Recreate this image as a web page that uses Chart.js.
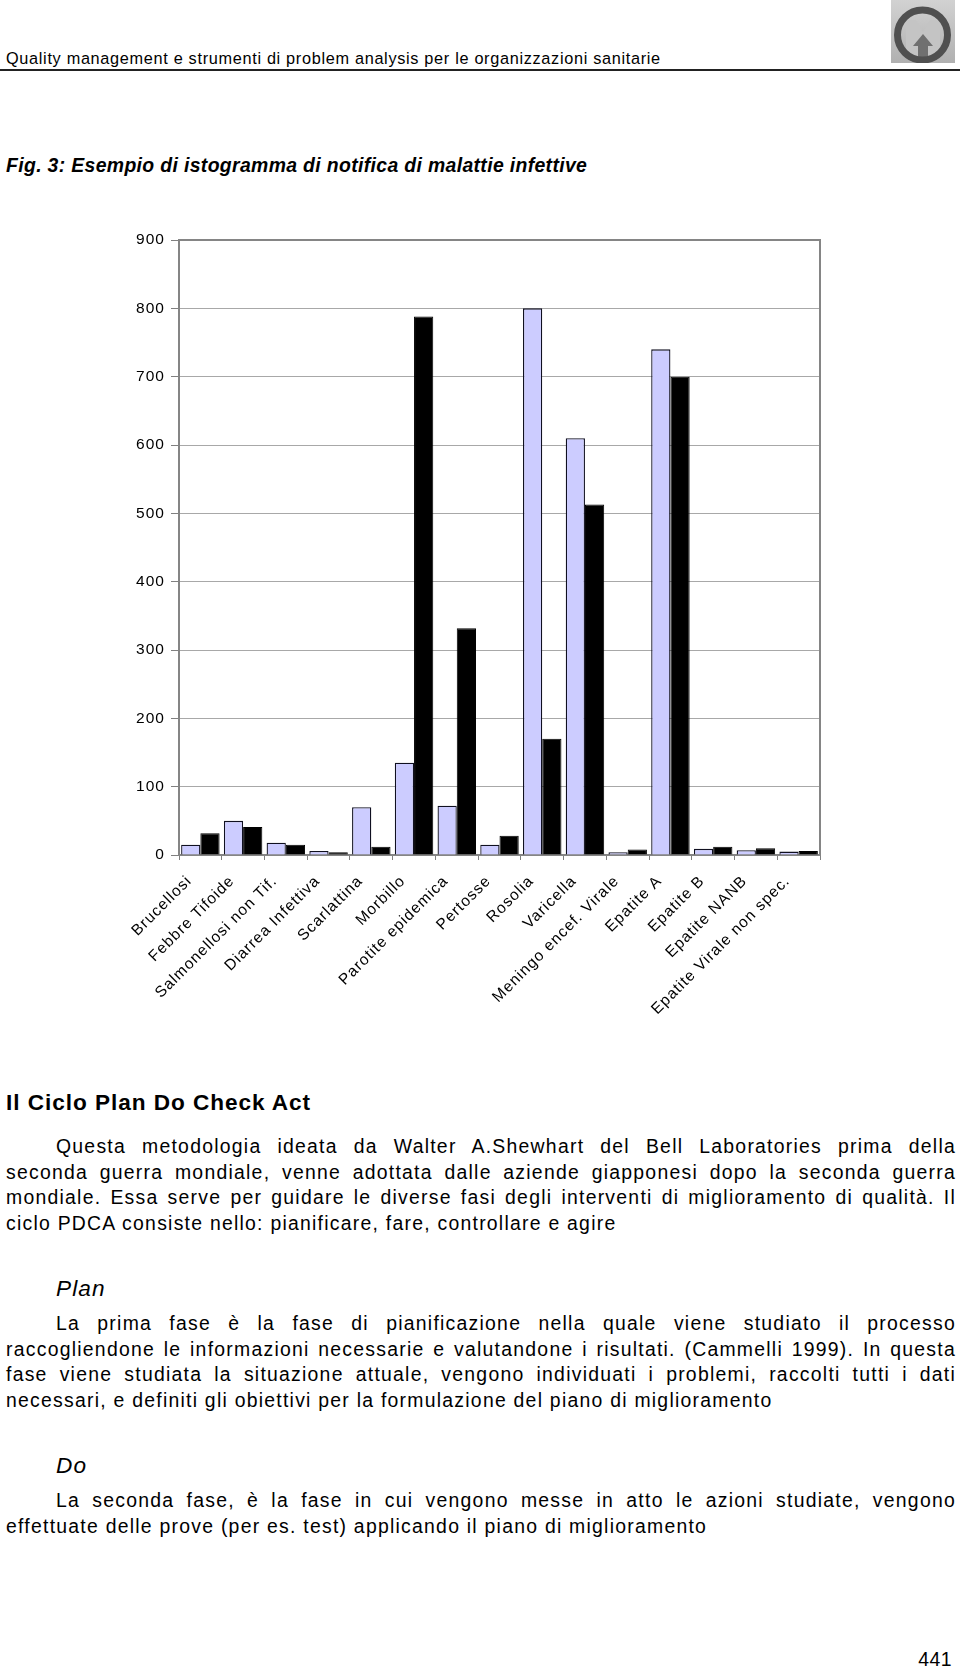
<!DOCTYPE html>
<html>
<head>
<meta charset="utf-8">
<script src="https://cdn.jsdelivr.net/npm/chart.js@4"></script>
<style>
  html, body { margin:0; padding:0; background:#fff; }
  body { width:960px; height:1667px; position:relative; overflow:hidden; font-family:'Liberation Sans', Arial, sans-serif; color:#000; }
  .abs { position:absolute; white-space:nowrap; }
  .hdr { left:6px; top:48.4px; font-size:16.3px; line-height:20px; letter-spacing:0.68px; }
  .rule { position:absolute; left:0; top:69px; width:960px; height:2px; background:#222; }
  .fig { left:6px; top:152.8px; font-size:19.4px; line-height:24px; font-weight:bold; font-style:italic; letter-spacing:0.35px; }
  .h2 { left:6px; top:1089.2px; font-size:22.6px; line-height:28px; font-weight:bold; letter-spacing:0.95px; }
  .para { position:absolute; left:6px; width:950px; font-size:19.4px; line-height:25.5px; letter-spacing:1.25px; }
  .para div { white-space:normal; }
  .j { text-align:justify; text-align-last:justify; }
  .first { text-indent:50px; }
  .sub { left:56px; font-size:22.6px; line-height:26px; font-style:italic; letter-spacing:1.1px; }
  .pg { right:8px; top:1646.3px; font-size:19.4px; line-height:26px; letter-spacing:0.5px; }
  #wrap { position:absolute; left:0; top:200px; width:960px; height:840px; }
</style>
</head>
<body>
<div class="abs hdr">Quality management e strumenti di problem analysis per le organizzazioni sanitarie</div>
<svg style="position:absolute;left:891px;top:0" width="64" height="63" viewBox="0 0 64 63">
  <defs>
    <linearGradient id="lg" x1="0" y1="0" x2="0" y2="1">
      <stop offset="0" stop-color="#d2d2d2"/>
      <stop offset="1" stop-color="#b0b0b0"/>
    </linearGradient>
  </defs>
  <rect width="64" height="63" fill="url(#lg)"/>
  <path d="M15 56 L15 20 L25 20 L32 32 L39 20 L49 20 L49 56 Z" fill="#c4c4c4"/>
  <path d="M27 62 L27 46 L22 46 L32 34 L42 46 L37 46 L37 62 Z" fill="#707070"/>
  <circle cx="31.5" cy="35" r="25" fill="none" stroke="#505050" stroke-width="7"/>
</svg>
<div class="rule"></div>
<div class="abs fig">Fig. 3: Esempio di istogramma di notifica di malattie infettive</div>

<div id="wrap"><canvas id="c" width="960" height="840"></canvas></div>

<div class="abs h2">Il Ciclo Plan Do Check Act</div>
<div class="para" style="top:1134.3px">
  <div class="j first">Questa metodologia ideata da Walter A.Shewhart del Bell Laboratories prima della</div>
  <div class="j">seconda guerra mondiale, venne adottata dalle aziende giapponesi dopo la seconda guerra</div>
  <div class="j">mondiale. Essa serve per guidare le diverse fasi degli interventi di miglioramento di qualità. Il</div>
  <div>ciclo PDCA consiste nello: pianificare, fare, controllare e agire</div>
</div>
<div class="abs sub" style="top:1276.3px">Plan</div>
<div class="para" style="top:1311.3px">
  <div class="j first">La prima fase è la fase di pianificazione nella quale viene studiato il processo</div>
  <div class="j">raccogliendone le informazioni necessarie e valutandone i risultati. (Cammelli 1999). In questa</div>
  <div class="j">fase viene studiata la situazione attuale, vengono individuati i problemi, raccolti tutti i dati</div>
  <div>necessari, e definiti gli obiettivi per la formulazione del piano di miglioramento</div>
</div>
<div class="abs sub" style="top:1453.3px">Do</div>
<div class="para" style="top:1488.3px">
  <div class="j first">La seconda fase, è la fase in cui vengono messe in atto le azioni studiate, vengono</div>
  <div>effettuate delle prove (per es. test) applicando il piano di miglioramento</div>
</div>
<div class="abs pg">441</div>

<script>
// ---- data ----
const categories = ['Brucellosi','Febbre Tifoide','Salmonellosi non Tif.','Diarrea Infettiva','Scarlattina','Morbillo','Parotite epidemica','Pertosse','Rosolia','Varicella','Meningo encef. Virale','Epatite A','Epatite B','Epatite NANB','Epatite Virale non spec.'];
const serie1 = [15, 50, 18, 6, 70, 135, 72, 15, 800, 610, 4, 740, 9, 7, 5];
const serie2 = [32, 41, 15, 4, 12, 788, 332, 28, 170, 513, 8, 700, 12, 10, 6];
const yTicks = [0, 100, 200, 300, 400, 500, 600, 700, 800, 900];

const FONT = "'Liberation Sans', Arial, sans-serif";
const LS = '1.05px';

const spacing = {
  id: 'spacing',
  beforeUpdate(chart) { chart.ctx.letterSpacing = LS; },
  beforeDraw(chart) { chart.ctx.letterSpacing = LS; }
};
const frame = {
  id: 'frame',
  beforeDatasetsDraw(chart) {
    const { ctx, chartArea: a } = chart;
    ctx.save();
    ctx.strokeStyle = '#858585';
    ctx.lineWidth = 2;
    ctx.strokeRect(a.left, a.top, a.right - a.left, a.bottom - a.top);
    ctx.restore();
  }
};

new Chart(document.getElementById('c'), {
  type: 'bar',
  data: {
    labels: categories,
    datasets: [
      { label: 'Serie 1', data: serie1, backgroundColor: '#ccccff', borderColor: '#101020', borderWidth: 1.3, categoryPercentage: 0.9, barPercentage: 1.0 },
      { label: 'Serie 2', data: serie2, backgroundColor: '#000000', borderColor: '#000000', borderWidth: 1, categoryPercentage: 0.9, barPercentage: 1.0 }
    ]
  },
  options: {
    responsive: false,
    animation: false,
    layout: { padding: { left: 0, right: 140, top: 40, bottom: 0 } },
    plugins: { legend: { display: false }, tooltip: { enabled: false } },
    scales: {
      x: {
        grid: { display: true, drawOnChartArea: false, offset: true, tickLength: 5, color: '#808080', tickColor: '#808080', lineWidth: 1 },
        border: { display: true, color: '#858585', width: 2 },
        ticks: { autoSkip: false, maxRotation: 45, minRotation: 45, padding: 12, labelOffset: -11, color: '#000', font: { family: FONT, size: 15.5 } },
        afterFit(s) { s.height = 185; }
      },
      y: {
        min: 0, max: 900,
        afterBuildTicks(s) { s.ticks = yTicks.map(v => ({ value: v })); },
        ticks: { padding: 6, color: '#000', font: { family: FONT, size: 15.5 } },
        grid: { color: '#a8a8a8', tickColor: '#808080', lineWidth: 1, tickLength: 8 },
        border: { display: true, color: '#858585', width: 2 },
        afterFit(s) { s.width = 179; }
      }
    }
  },
  plugins: [spacing, frame]
});
</script>
</body>
</html>
